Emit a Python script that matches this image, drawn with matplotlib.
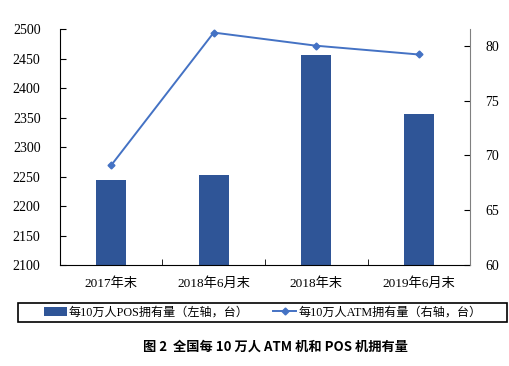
import numpy as np
import matplotlib
matplotlib.use('Agg')
import matplotlib.pyplot as plt
from matplotlib.patches import Rectangle

plt.rcParams['font.family'] = ['Liberation Serif', 'Noto Sans CJK SC']

# data
categories = ['2017年末', '2018年6月末', '2018年末', '2019年6月末']
pos_per_100k = [2244, 2253, 2456, 2356]   # left axis
atm_per_100k = [69.1, 81.2, 80.0, 79.2]   # right axis

bar_color = '#2F5597'
line_color = '#4472C4'

fig = plt.figure(figsize=(5.1, 3.66), dpi=100)
ax = fig.add_axes([0.1176, 0.276, 0.804, 0.644])
ax2 = ax.twinx()

x = np.arange(len(categories))
bars = ax.bar(x, pos_per_100k, width=0.29, color=bar_color, zorder=2,
              label='每10万人POS拥有量（左轴，台）')
line, = ax2.plot(x, atm_per_100k, color=line_color, lw=1.4, marker='D', ms=3.5,
                 label='每10万人ATM拥有量（右轴，台）')

ax.set_xlim(-0.5, len(categories) - 0.5)
ax.set_ylim(2100, 2500)
ax.set_yticks(np.arange(2100, 2501, 50))
ax2.set_ylim(60, 81.5)
ax2.set_yticks([60, 65, 70, 75, 80])

# category boundary ticks on the x axis
ax.set_xticks(x)
ax.set_xticklabels(categories, fontsize=9.5)
ax.set_xticks(np.arange(0.5, len(categories) - 1, 1), minor=True)
ax.tick_params(axis='x', which='major', length=0, pad=9)
ax.tick_params(axis='x', which='minor', direction='in', length=4)
ax.tick_params(axis='y', direction='in', length=4, labelsize=10, pad=14)
ax2.tick_params(axis='y', direction='in', length=4, labelsize=10, pad=11)

for s in ['top', 'right']:
    ax.spines[s].set_visible(False)
ax2.spines['top'].set_visible(False)
ax2.spines['left'].set_visible(False)
ax2.spines['bottom'].set_visible(False)
ax2.spines['right'].set_color('#808080')

# legend box drawn by hand so it can be wider than its contents
fig.patches.append(Rectangle((0.035, 0.12), 0.959, 0.052, transform=fig.transFigure,
                             fill=False, edgecolor='black', lw=1.2))
fig.legend(handles=[bars, line], loc='center', ncol=2,
           bbox_to_anchor=(0.515, 0.146), fontsize=8.7, frameon=False,
           handlelength=1.9, handletextpad=0.2, columnspacing=2.0)

fig.text(0.54, 0.052, '图 2  全国每 10 万人 ATM 机和 POS 机拥有量', ha='center', va='center',
         fontsize=9.5, fontweight='bold', family=['Noto Sans CJK SC', 'DejaVu Sans'])

fig.savefig('out.png', dpi=100)
